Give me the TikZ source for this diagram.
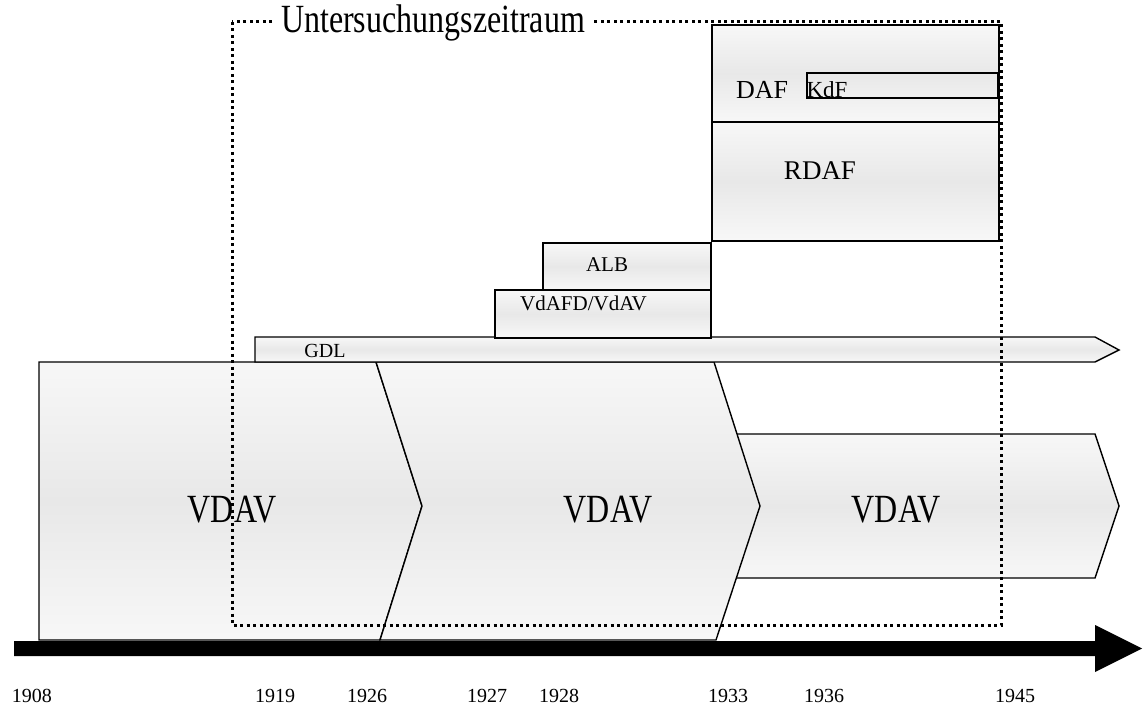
\documentclass[tikz,border=0pt]{standalone}
\usepackage{fontspec}
\setmainfont{Liberation Serif}
\newfontfamily\squeezefont[FakeStretch=0.8]{Liberation Serif}

\begin{document}
\begin{tikzpicture}[x=1pt, y=-1pt,
  stage/.style={draw, line width=1.4pt, top color=black!3, bottom color=black!3, middle color=black!9},
  bigtext/.style={font=\squeezefont\fontsize{40}{44}\selectfont},
  midtext/.style={font=\fontsize{26}{30}\selectfont},
  smalltext/.style={font=\fontsize{21}{24}\selectfont},
  yeartext/.style={font=\fontsize{20}{24}\selectfont}]
\useasboundingbox (0,0) rectangle (1143,706);

% VDAV phases
\draw[stage] (700,434) -- (1095,434) -- (1119,506) -- (1095,578) -- (700,578) -- cycle;
\draw[stage] (39,362) -- (376,362) -- (422,506) -- (380,640) -- (39,640) -- cycle;
\draw[stage] (376,362) -- (714,362) -- (760,506) -- (716,640) -- (380,640) -- (422,506) -- cycle;
\node[bigtext] (vdav1) at (232,510) {VDAV};
\node[bigtext] (vdav2) at (608,510) {VDAV};
\node[bigtext] (vdav3) at (896,510) {VDAV};

% GDL
\draw[stage] (255,337) -- (1095,337) -- (1119,350) -- (1095,362) -- (255,362) -- cycle;
\node[smalltext, font=\fontsize{20}{24}\selectfont] (gdl) at (325,351) {GDL};

% VdAFD/VdAV and ALB
\draw[stage] (495,290) rectangle (711,338);
\node[smalltext, anchor=base] (vdafd) at (583.5,310) {VdAFD/VdAV};
\draw[stage] (543,243) rectangle (711,290);
\node[smalltext] (alb) at (607,265) {ALB};

% DAF, KdF, RDAF
\draw[stage] (712,25) rectangle (999,122);
\draw[stage] (712,122) rectangle (999,241);
\draw[line width=1.4pt] (807,73) rectangle (998,98);
\node[midtext] (daf) at (762,90) {DAF};
\node[midtext, font=\fontsize{23}{26}\selectfont] (kdf) at (827,90) {KdF};
\node[midtext, font=\fontsize{27}{30}\selectfont] (rdaf) at (820,171) {RDAF};

% time axis
\fill (14,641) -- (1095,641) -- (1095,625) -- (1142,648.5) -- (1095,672) -- (1095,656) -- (14,656) -- cycle;
\foreach \x/\year in {32/1908, 275/1919, 367/1926, 487/1927, 559/1928, 728/1933, 824/1936, 1015/1945}
  \node[yeartext] (y\year) at (\x,696) {\year};

% Untersuchungszeitraum
\draw[line width=3pt, dash pattern=on 3pt off 3.5pt] (232,22) rectangle (1001,625);
\node[bigtext, fill=white, inner xsep=6pt, inner ysep=1pt, anchor=base] (zeitraum) at (433,33) {Untersuchungszeitraum};

\end{tikzpicture}
\end{document}
